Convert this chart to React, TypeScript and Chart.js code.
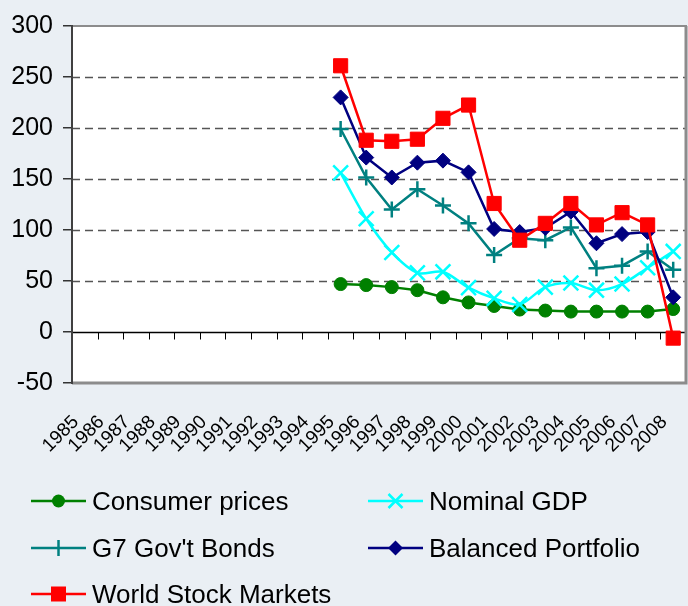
import React, { useEffect, useRef } from "react";
import { Chart, registerables } from "chart.js";

Chart.register(...registerables);

const years = ["1985","1986","1987","1988","1989","1990","1991","1992","1993","1994","1995","1996","1997","1998","1999","2000","2001","2002","2003","2004","2005","2006","2007","2008"];
const pad = [null, null, null, null, null, null, null, null, null, null];

const consumerPrices = [47, 46, 44, 41, 34, 29, 25.5, 22, 21, 20, 20, 20, 20, 22.5];
const nominalGDP = [156, 111, 78, 58, 59, 43.5, 33, 27, 44, 48, 41, 47, 63, 79];
const g7Bonds = [199, 151.5, 120, 140, 124, 106.5, 75.5, 92, 90, 102.5, 62.5, 65, 79, 61];
const balancedPortfolio = [230, 171, 151.5, 166, 168, 156.5, 101, 98, 102, 118, 87, 96, 98, 34];
const worldStocks = [261, 188, 187, 189, 209.5, 222.5, 126, 90, 106.5, 126, 105, 117, 105, -6];

const yTicks = [300, 250, 200, 150, 100, 50, 0, -50];

const FONT = "'Liberation Sans', Arial, sans-serif";
const BG = "#EAEFF4";

const series = [
  { label: "Consumer prices", data: consumerPrices, color: "#008000", style: "circle", radius: 6.5, order: 5, tension: 0 },
  { label: "Nominal GDP", data: nominalGDP, color: "#00FFFF", style: "crossRot", radius: 10.5, order: 4, tension: 0.3 },
  { label: "G7 Gov't Bonds", data: g7Bonds, color: "#008080", style: "cross", radius: 8, order: 3, tension: 0 },
  { label: "Balanced Portfolio", data: balancedPortfolio, color: "#000080", style: "rectRot", radius: 7.5, order: 2, tension: 0 },
  { label: "World Stock Markets", data: worldStocks, color: "#FF0000", style: "rect", radius: 10, order: 1, tension: 0 },
];

const frame = {
  id: "frame",
  beforeDraw(chart: any) {
    const { ctx, chartArea: a } = chart;
    ctx.save();
    ctx.fillStyle = "#FFFFFF";
    ctx.fillRect(a.left, a.top, a.right - a.left, a.bottom - a.top);
    ctx.restore();
  },
  beforeDatasetsDraw(chart: any) {
    const { ctx, chartArea: a, scales } = chart;
    const y = scales.y;
    const x = scales.x;
    ctx.save();
    ctx.strokeStyle = "#555555";
    ctx.lineWidth = 1.5;
    ctx.setLineDash([8, 5]);
    for (const v of yTicks) {
      if (v === 0 || v === 300 || v === -50) continue;
      const py = Math.round(y.getPixelForValue(v)) + 0.5;
      ctx.beginPath();
      ctx.moveTo(a.left, py);
      ctx.lineTo(a.right, py);
      ctx.stroke();
    }
    ctx.setLineDash([]);
    const zy = Math.round(y.getPixelForValue(0)) + 0.5;
    ctx.strokeStyle = "#000000";
    ctx.lineWidth = 1.5;
    ctx.beginPath();
    ctx.moveTo(a.left, zy);
    ctx.lineTo(a.right, zy);
    ctx.stroke();
    ctx.lineWidth = 1;
    const n = years.length;
    const step = x.getPixelForValue(1) - x.getPixelForValue(0);
    for (let i = 0; i <= n; i++) {
      const px = Math.round(x.getPixelForValue(0) - step / 2 + i * step) + 0.5;
      ctx.beginPath();
      ctx.moveTo(px, zy);
      ctx.lineTo(px, zy + 7);
      ctx.stroke();
    }
    ctx.strokeStyle = "#8C8C8C";
    ctx.lineWidth = 2;
    ctx.strokeRect(a.left, a.top, a.right - a.left, a.bottom - a.top);
    ctx.lineWidth = 3;
    ctx.beginPath();
    ctx.moveTo(a.left, a.bottom);
    ctx.lineTo(a.right, a.bottom);
    ctx.lineTo(a.right, a.top);
    ctx.stroke();
    ctx.strokeStyle = "#404040";
    ctx.lineWidth = 2;
    ctx.beginPath();
    ctx.moveTo(a.left, a.top - 1);
    ctx.lineTo(a.left, a.bottom + 1);
    ctx.stroke();
    ctx.restore();
  },
};

function Marker({ style, color }: { style: string; color: string }) {
  const c = 27.5;
  const m = 10;
  let shape: any = null;
  if (style === "circle") shape = <circle cx={c} cy={m} r={6.5} fill={color} />;
  else if (style === "crossRot")
    shape = <path d={`M${c - 7} ${m - 7}L${c + 7} ${m + 7}M${c + 7} ${m - 7}L${c - 7} ${m + 7}`} stroke={color} strokeWidth={2.5} />;
  else if (style === "cross")
    shape = <path d={`M${c} ${m - 8}L${c} ${m + 8}`} stroke={color} strokeWidth={2.5} />;
  else if (style === "rectRot")
    shape = <path d={`M${c - 7.5} ${m}L${c} ${m - 7.5}L${c + 7.5} ${m}L${c} ${m + 7.5}Z`} fill={color} />;
  else if (style === "rect") shape = <rect x={c - 7.5} y={m - 7.5} width={15} height={15} fill={color} />;
  return (
    <svg width={55} height={20} style={{ display: "block" }}>
      <line x1={0} y1={m} x2={55} y2={m} stroke={color} strokeWidth={2.5} />
      {shape}
    </svg>
  );
}

const legendPos = [
  { x: 31, y: 501 },
  { x: 368, y: 501 },
  { x: 31, y: 548 },
  { x: 368, y: 548 },
  { x: 31, y: 594 },
];

export default function App() {
  const ref = useRef<HTMLCanvasElement>(null);
  useEffect(() => {
    if (!ref.current) return;
    const chart = new Chart(ref.current, {
      type: "line",
      data: {
        labels: years,
        datasets: series.map((s) => ({
          label: s.label,
          data: [...pad, ...s.data],
          borderColor: s.color,
          backgroundColor: s.color,
          pointBackgroundColor: s.color,
          pointBorderColor: s.color,
          pointStyle: s.style as any,
          pointRadius: s.radius,
          pointBorderWidth: s.style === "cross" || s.style === "crossRot" ? 2.5 : 1,
          borderWidth: 2.5,
          tension: s.tension,
          fill: false,
          order: s.order,
        })),
      },
      options: {
        animation: false,
        responsive: false,
        maintainAspectRatio: false,
        layout: { autoPadding: false, padding: { top: 26, right: 2, left: 0, bottom: 0 } },
        plugins: { legend: { display: false }, tooltip: { enabled: false } },
        scales: {
          x: {
            type: "category",
            offset: true,
            grid: { display: false, drawTicks: false },
            border: { display: false },
            ticks: {
              autoSkip: false,
              maxRotation: 45,
              minRotation: 45,
              padding: 28,
              labelOffset: -9,
              color: "#000",
              font: { family: FONT, size: 19 },
            },
            afterFit: (s: any) => {
              s.height = 223;
              s.paddingLeft = 0;
              s.paddingRight = 0;
            },
          },
          y: {
            min: -50,
            max: 300,
            ticks: {
              stepSize: 50,
              padding: 10,
              color: "#000",
              font: { family: FONT, size: 25 },
            },
            grid: { drawOnChartArea: false, drawTicks: true, tickLength: 9, color: "#333", lineWidth: 1.5 },
            border: { display: false },
            afterFit: (s: any) => {
              s.width = 72;
            },
          },
        },
      },
      plugins: [frame],
    });
    return () => chart.destroy();
  }, []);

  return (
    <div style={{ position: "absolute", left: 0, top: 0, width: 688, height: 606, background: BG, overflow: "hidden" }}>
      <canvas ref={ref} width={688} height={606} style={{ position: "absolute", left: 0, top: 0, width: 688, height: 606 }} />
      {series.map((s, i) => (
        <div
          key={s.label}
          style={{
            position: "absolute",
            left: legendPos[i].x,
            top: legendPos[i].y - 15,
            height: 30,
            display: "flex",
            alignItems: "center",
            fontFamily: FONT,
            fontSize: 26,
            color: "#000",
            whiteSpace: "nowrap",
          }}
        >
          <Marker style={s.style} color={s.color} />
          <span style={{ marginLeft: 6 }}>{s.label}</span>
        </div>
      ))}
    </div>
  );
}
